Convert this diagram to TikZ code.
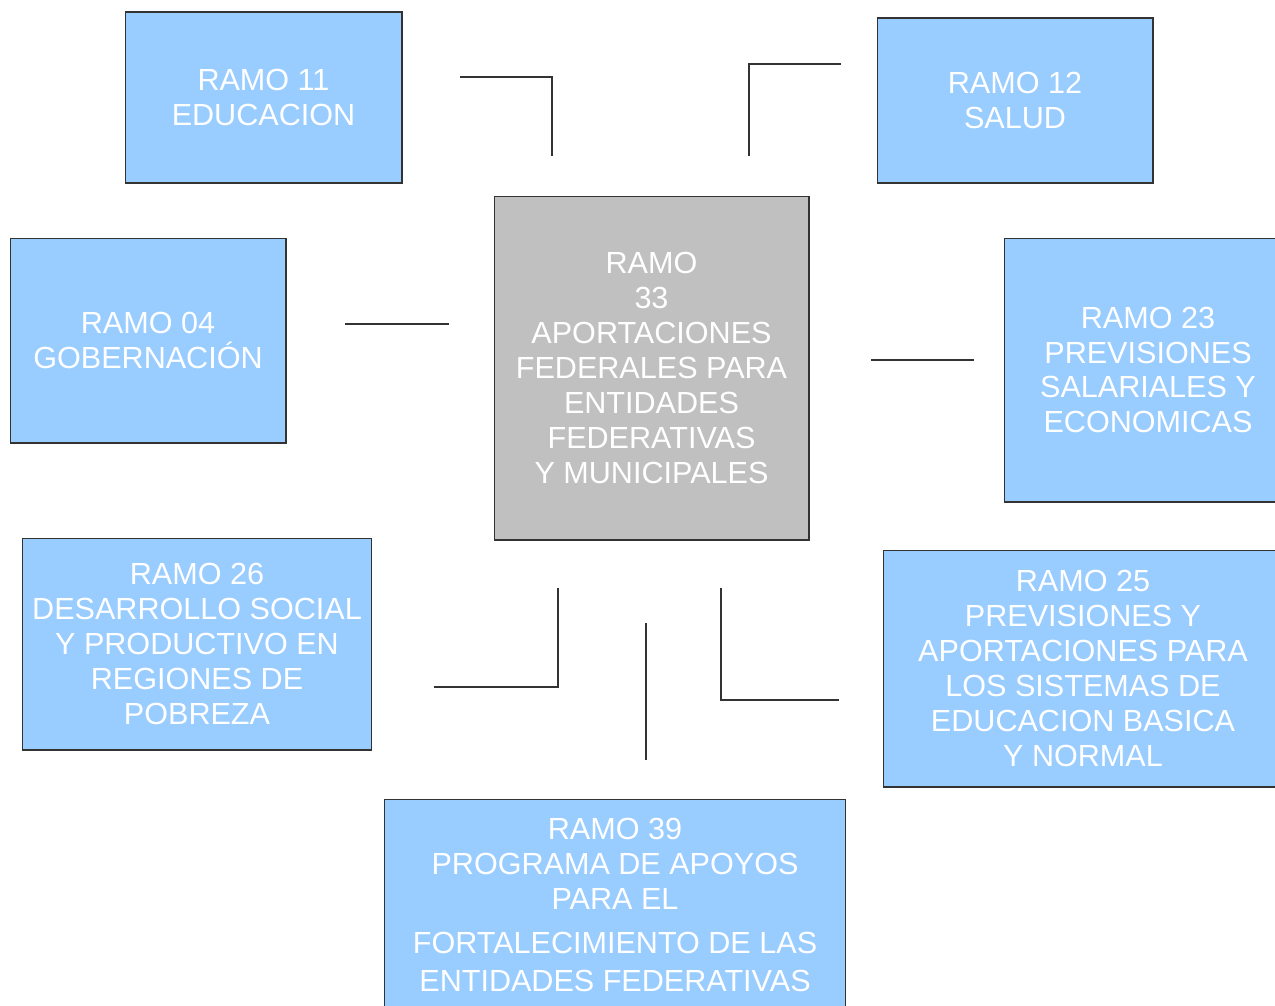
\documentclass[tikz,border=0pt]{standalone}
\usepackage{fontspec}
\setmainfont{Liberation Sans}
\definecolor{boxblue}{HTML}{99CCFF}
\definecolor{boxgray}{HTML}{C0C0C0}
\definecolor{edge}{HTML}{333333}
\begin{document}
\begin{tikzpicture}[x=0.02cm,y=-0.02cm,
  box/.style={draw=edge,line width=0.6pt,fill=boxblue,rectangle,inner sep=0pt,
    align=center,text=white,font=\fontsize{17.4}{19.85}\selectfont},
  cbox/.style={box,fill=boxgray},
  conn/.style={draw=black!80,line width=0.6pt}]
\useasboundingbox (0,0) rectangle (1275,1005);
\clip (0,0) rectangle (1275,1005);
\fill[white] (0,0) rectangle (1275,1005);
\node[box,minimum width=5.54cm,minimum height=3.42cm] (r11) at (263.5,97.5) {RAMO 11\\EDUCACION};
\node[box,minimum width=5.52cm,minimum height=3.30cm] (r12) at (1015,100.5) {RAMO 12\\SALUD};
\node[cbox,minimum width=6.30cm,minimum height=6.88cm] (c33) at (651.5,368) {RAMO\\33\\APORTACIONES\\FEDERALES PARA\\ENTIDADES\\FEDERATIVAS\\Y MUNICIPALES};
\node[box,minimum width=5.52cm,minimum height=4.10cm] (r04) at (148,340.5) {RAMO 04\\GOBERNACIÓN};
\node[box,minimum width=5.76cm,minimum height=5.28cm] (r23) at (1148,370) {RAMO 23\\PREVISIONES\\SALARIALES Y\\ECONOMICAS};
\node[box,minimum width=7.00cm,minimum height=4.24cm] (r26) at (197,644) {RAMO 26\\DESARROLLO SOCIAL\\Y PRODUCTIVO EN\\REGIONES DE\\POBREZA};
\node[box,minimum width=8.00cm,minimum height=4.74cm] (r25) at (1083,668.5) {RAMO 25\\PREVISIONES Y\\APORTACIONES PARA\\LOS SISTEMAS DE\\EDUCACION BASICA\\Y NORMAL};
\node[box,minimum width=9.24cm,minimum height=4.24cm] (r39) at (615,905) {RAMO 39\\PROGRAMA DE APOYOS\\PARA EL\\[5pt]FORTALECIMIENTO DE LAS\\[1.7pt]ENTIDADES FEDERATIVAS};
% connector lines
\coordinate (a1) at (460,77); \coordinate (a2) at (552,156);
\draw[conn] (a1) -| (a2);
\coordinate (b1) at (749,156); \coordinate (b2) at (841,64);
\draw[conn] (b1) |- (b2);
\coordinate (c1) at (345,324); \coordinate (c2) at (449,324);
\draw[conn] (c1) -- (c2);
\coordinate (d1) at (871,360); \coordinate (d2) at (974,360);
\draw[conn] (d1) -- (d2);
\coordinate (e1) at (434,687); \coordinate (e2) at (558,588);
\draw[conn] (e1) -| (e2);
\coordinate (f1) at (646,623); \coordinate (f2) at (646,760);
\draw[conn] (f1) -- (f2);
\coordinate (g1) at (721,588); \coordinate (g2) at (839,700);
\draw[conn] (g1) |- (g2);
\end{tikzpicture}
\end{document}
